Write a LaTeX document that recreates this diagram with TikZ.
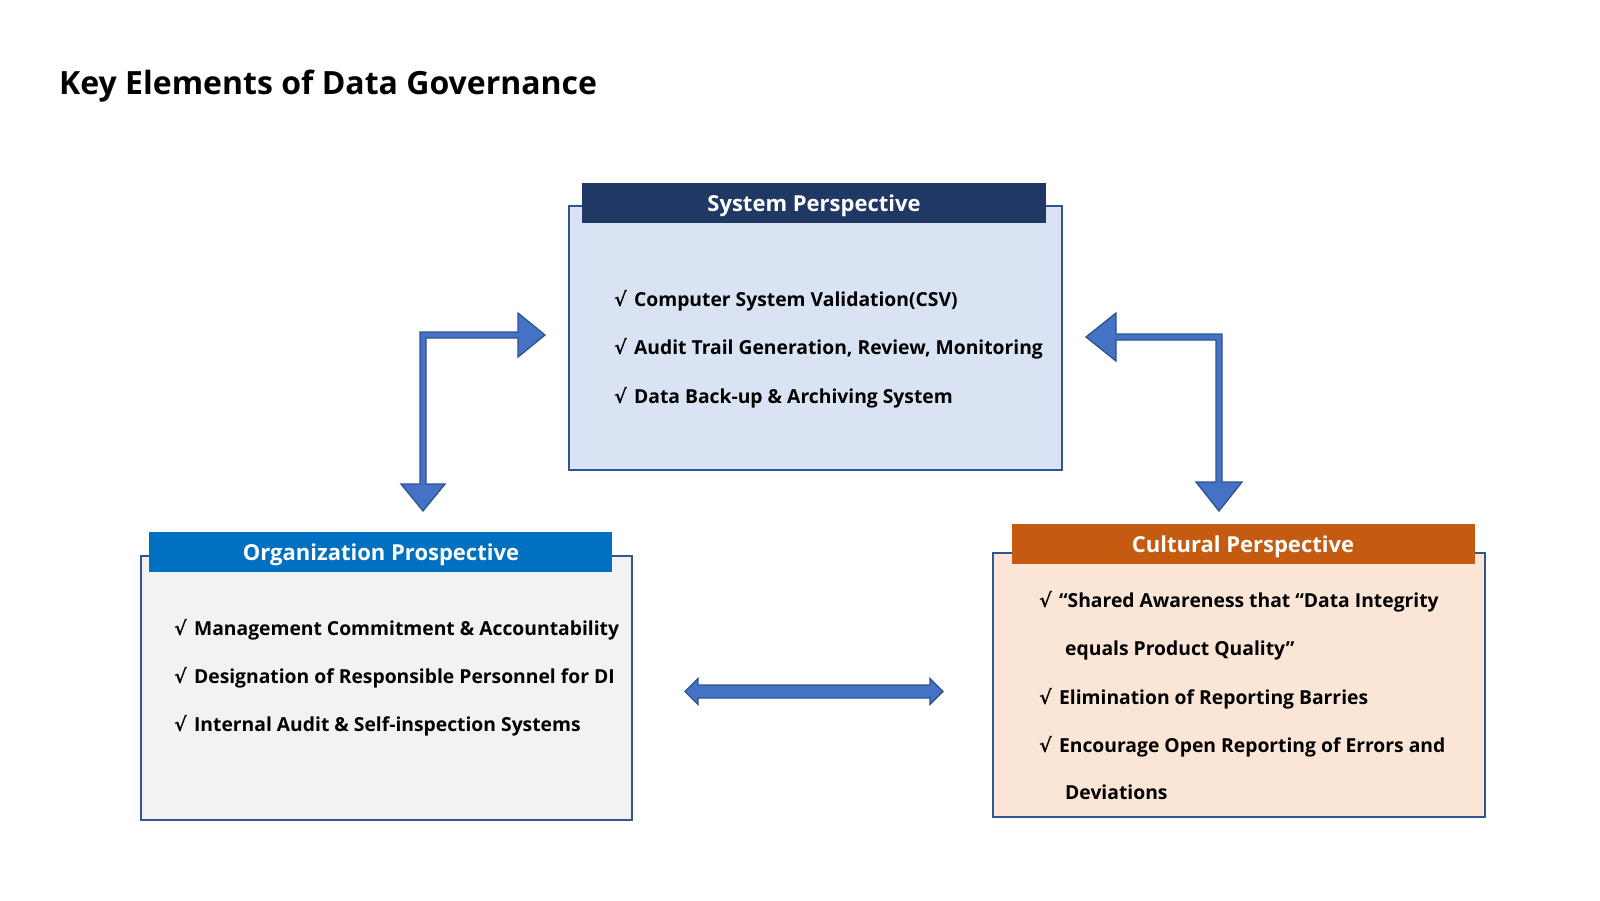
\documentclass[tikz,border=0pt]{standalone}
\usepackage{fontspec}
\setmainfont{Open Sans}[BoldFont={* Bold}]
\newfontfamily\symfont{DejaVu Sans}
\usetikzlibrary{calc}
\definecolor{sysHead}{HTML}{203864}
\definecolor{sysFill}{HTML}{DAE3F3}
\definecolor{boxLine}{HTML}{2F5597}
\definecolor{orgHead}{HTML}{0070C0}
\definecolor{orgFill}{HTML}{F2F2F2}
\definecolor{culHead}{HTML}{C55A11}
\definecolor{culFill}{HTML}{FBE5D6}
\definecolor{arrFill}{HTML}{4472C4}
\definecolor{arrLine}{HTML}{2F528F}
\newcommand{\ck}{{\symfont\bfseries √}\hspace{7pt}}
\tikzset{
  panel/.style={draw=boxLine, line width=1.6pt, inner sep=0pt},
  head/.style={inner sep=0pt, minimum height=40pt},
  headtext/.style={anchor=base, text=white, font=\fontsize{22}{22}\selectfont\bfseries, inner sep=0pt},
  item/.style={anchor=base west, inner sep=0pt, font=\fontsize{19.3}{20}\selectfont\bfseries},
  fatarrow/.style={fill=arrFill, draw=arrLine, line width=1.3pt, line join=miter}
}
\begin{document}
\begin{tikzpicture}[x=1pt, y=-1pt]
\useasboundingbox (0,0) rectangle (1600,900);
\fill[white] (0,0) rectangle (1600,900);
% title
\node[anchor=base west, inner sep=0pt, font=\fontsize{32}{32}\selectfont\bfseries] (title) at (59,94) {Key Elements of Data Governance};
% system
\node[panel, fill=sysFill, minimum width=493pt, minimum height=264pt] (sys) at (815.5,338) {};
\node[head, fill=sysHead, minimum width=464pt] (syshead) at (814,203) {};
\node[headtext] (systitle) at (814,211) {System Perspective};
\node[item] (s1) at (614,306.5) {\ck Computer System Validation(CSV)};
\node[item] (s2) at (614,354) {\ck Audit Trail Generation, Review, Monitoring};
\node[item] (s3) at (614,403) {\ck Data Back-up \& Archiving System};
% organization
\node[panel, fill=orgFill, minimum width=491pt, minimum height=264pt] (org) at (386.5,688) {};
\node[head, fill=orgHead, minimum width=463pt] (orghead) at (380.5,552) {};
\node[headtext] (orgtitle) at (381,560) {Organization Prospective};
\node[item] (o1) at (174,635) {\ck Management Commitment \& Accountability};
\node[item] (o2) at (174,683) {\ck Designation of Responsible Personnel for DI};
\node[item] (o3) at (174,731) {\ck Internal Audit \& Self-inspection Systems};
% cultural
\node[panel, fill=culFill, minimum width=492pt, minimum height=264pt] (cul) at (1239,685) {};
\node[head, fill=culHead, minimum width=463pt] (culhead) at (1243.5,544) {};
\node[headtext] (cultitle) at (1243,552) {Cultural Perspective};
\node[item] (c1) at (1039,607) {\ck “Shared Awareness that “Data Integrity};
\node[item] (c1b) at (1065,655) {equals Product Quality”};
\node[item] (c2) at (1039,704) {\ck Elimination of Reporting Barries};
\node[item] (c3) at (1039,752) {\ck Encourage Open Reporting of Errors and};
\node[item] (c3b) at (1065,799) {Deviations};
% arrows
\coordinate (La) at (423,335);
\coordinate (Lr) at (545,335);
\coordinate (Ld) at (423,511);
\draw[fatarrow] ($(La)+(-3,-3)$) -- ($(Lr)+(-27,-3)$) -- ($(Lr)+(-27,-22)$) -- (Lr) -- ($(Lr)+(-27,22)$) -- ($(Lr)+(-27,3)$) -- ($(La)+(3,3)$) -- ($(Ld)+(3,-27)$) -- ($(Ld)+(22,-27)$) -- (Ld) -- ($(Ld)+(-22,-27)$) -- ($(Ld)+(-3,-27)$) -- cycle;
\coordinate (Ra) at (1219,337);
\coordinate (Rl) at (1086,337);
\coordinate (Rd) at (1219,511);
\draw[fatarrow] ($(Ra)+(3,-3)$) -- ($(Rd)+(3,-29)$) -- ($(Rd)+(23,-29)$) -- (Rd) -- ($(Rd)+(-23,-29)$) -- ($(Rd)+(-3,-29)$) -- ($(Ra)+(-3,3)$) -- ($(Rl)+(30,3)$) -- ($(Rl)+(30,24)$) -- (Rl) -- ($(Rl)+(30,-24)$) -- ($(Rl)+(30,-3)$) -- cycle;
\coordinate (Dl) at (685,691.5);
\coordinate (Dr) at (943,691.5);
\draw[fatarrow] (Dl) -- ($(Dl)+(13,-13)$) -- ($(Dl)+(13,-6.5)$) -- ($(Dr)+(-13,-6.5)$) -- ($(Dr)+(-13,-13)$) -- (Dr) -- ($(Dr)+(-13,13)$) -- ($(Dr)+(-13,6.5)$) -- ($(Dl)+(13,6.5)$) -- ($(Dl)+(13,13)$) -- cycle;
\end{tikzpicture}
\end{document}
